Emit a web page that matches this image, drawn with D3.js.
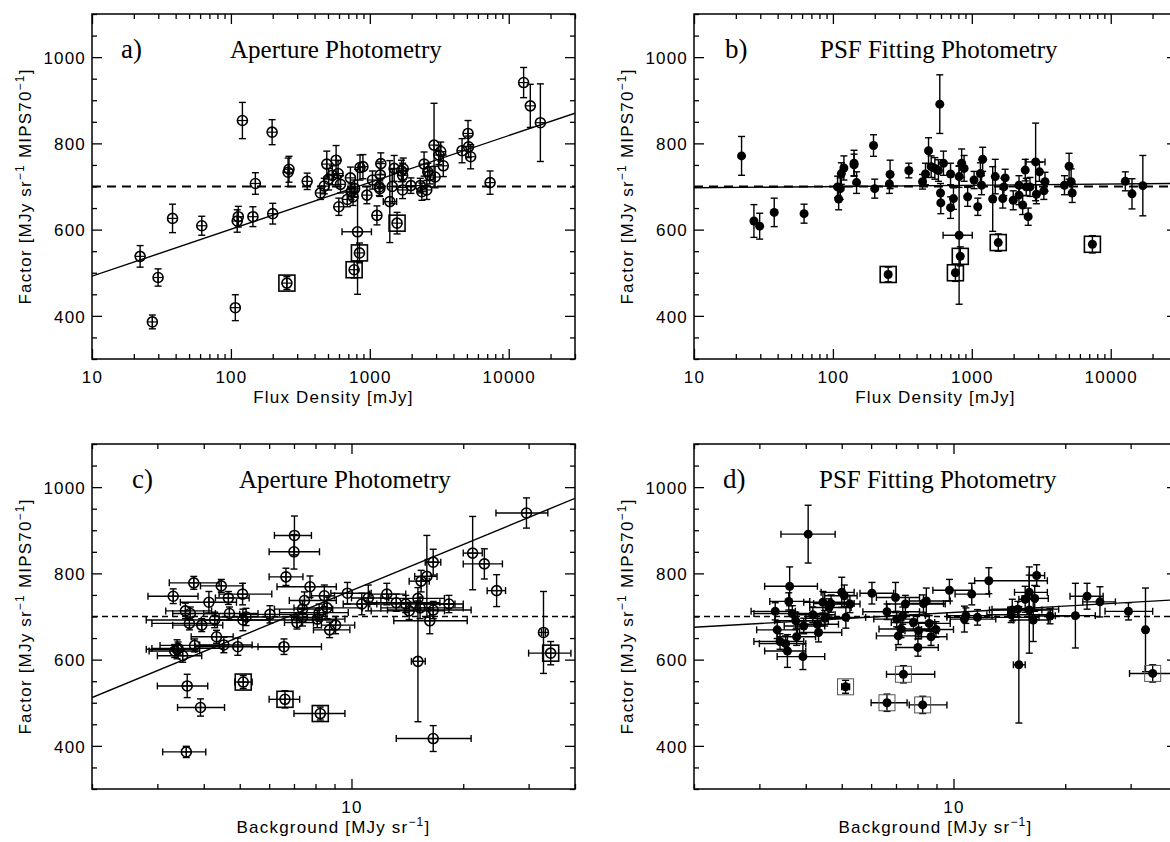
<!DOCTYPE html>
<html>
<head>
<meta charset="utf-8">
<script src="https://cdn.jsdelivr.net/npm/d3@7"></script>
<style>
  html, body { margin: 0; padding: 0; background: #fff; overflow: hidden; }
  svg { display: block; }
  .tick text { font-family: "Liberation Sans", Arial, sans-serif; font-size: 17px; letter-spacing: 1.2px; fill: #000; }
  .tick line { stroke: #000; stroke-width: 1.3; }
  .axis-title { font-family: "Liberation Sans", Arial, sans-serif; font-size: 17px; letter-spacing: 1.2px; fill: #000; }
  .panel-title { font-family: "Liberation Serif", "Times New Roman", serif; font-size: 25px; fill: #000; }
  .panel-letter { font-family: "Liberation Serif", "Times New Roman", serif; font-size: 27px; fill: #000; }
</style>
</head>
<body>
<svg id="chart" width="1170" height="842"></svg>
<script>
// ---- data ----
// panels a/b: [flux mJy, factor, error, (flux low, flux high)]
const pointsA = [
  [22.2, 538, 25], [27.2, 386, 16], [29.9, 489, 20], [38, 626, 33], [61.7, 609, 22],
  [107.6, 419, 30], [111, 620, 26], [113, 630, 24], [121, 853, 42], [144, 630, 23],
  [150, 707, 25], [198, 826, 29], [200, 637, 24], [253, 476, 15], [258, 733, 33],
  [262, 740, 30], [354, 712, 19], [441, 685, 15], [470, 701, 18], [490, 752, 30],
  [505, 717, 25], [537, 726, 22], [572, 761, 34], [591, 730, 30], [598, 653, 20],
  [615, 705, 20], [689, 670, 17], [725, 720, 25], [734, 688, 18], [757, 676, 20],
  [777, 695, 20], [771, 507, 19], [816, 595, 145, 631, 1027], [842, 546, 23], [850, 744, 29],
  [892, 746, 28], [953, 680, 20], [1045, 715, 21], [1125, 633, 22], [1170, 699, 20],
  [1180, 695, 18], [1190, 727, 30], [1200, 753, 25], [1393, 665, 95, 1250, 1560], [1450, 700, 40],
  [1497, 742, 30], [1571, 615, 25], [1691, 736, 25], [1722, 726, 28], [1722, 692, 20],
  [1740, 741, 25], [1977, 702, 18], [2308, 702, 17], [2370, 688, 20], [2458, 752, 28],
  [2570, 692, 22], [2614, 734, 20], [2700, 726, 20], [2900, 796, 97], [2950, 722, 25],
  [3140, 773, 22], [3240, 781, 22], [3380, 748, 25], [4613, 783, 28], [5093, 823, 30],
  [5140, 792, 25], [5320, 769, 28], [7340, 709, 27], [12800, 941, 35], [14300, 887, 50],
  [16900, 848, 90]
];
const boxA = [[253, 476], [771, 507], [842, 546], [1571, 615]];

const pointsB = [
  [22, 771, 45], [27, 620, 38], [29.7, 608, 30], [37.8, 640, 33], [62, 637, 22],
  [108, 699, 25], [110, 671, 25], [113, 695, 25], [115, 730, 25], [120, 743, 28],
  [142, 754, 30], [142, 750, 25], [148, 709, 25], [196, 795, 25], [200, 695, 22],
  [250, 496, 17], [255, 706, 22], [258, 728, 33], [352, 737, 17], [442, 711, 17],
  [464, 729, 25], [488, 783, 30], [510, 746, 25], [542, 742, 25], [575, 737, 25],
  [588, 891, 68], [595, 685, 22], [598, 662, 25], [625, 754, 28], [703, 729, 25],
  [703, 651, 25], [738, 672, 25], [762, 500, 20], [810, 587, 160, 621, 1007], [810, 723, 25],
  [826, 538, 22], [845, 754, 33], [880, 742, 30], [933, 676, 22], [1038, 715, 20],
  [1104, 653, 20], [1153, 730, 25], [1175, 703, 22], [1197, 763, 28], [1414, 671, 75],
  [1475, 723, 40], [1550, 570, 20], [1670, 672, 22], [1700, 699, 20], [1738, 720, 20],
  [1987, 668, 22], [2186, 680, 22], [2186, 703, 22], [2323, 657, 22], [2424, 738, 25],
  [2466, 699, 20], [2545, 630, 20], [2623, 699, 22], [2880, 757, 90, 2460, 3365], [2918, 682, 22],
  [3067, 734, 22], [3300, 690, 20], [3364, 711, 22], [4645, 703, 22], [5016, 747, 30],
  [5188, 711, 30], [5280, 685, 22], [7380, 566, 20], [12740, 712, 22], [14230, 683, 35],
  [17030, 702, 70]
];
const boxB = [[250, 496], [762, 500], [826, 538], [1550, 570], [7380, 566]];

// panels c/d: [background, background low, background high, factor, error]
const pointsC = [
  [3.31, 2.83, 3.86, 747, 17], [3.76, 3.23, 4.4, 778, 15], [4.46, 3.92, 5.1, 771, 15],
  [4.66, 4.3, 5.3, 743, 15], [5.09, 4.4, 6.1, 752, 25], [4.13, 3.46, 4.9, 733, 25],
  [3.57, 3.16, 4.2, 713, 18], [3.68, 3.3, 4.3, 707, 15], [4.28, 2.8, 6.0, 692, 18],
  [4.69, 4.0, 5.6, 707, 15], [3.95, 3.3, 4.5, 680, 15], [3.66, 2.9, 4.35, 684, 15],
  [5.1, 3.94, 9.1, 692, 25], [5.2, 4.4, 7.0, 699, 20], [6.03, 5.0, 8.5, 705, 20],
  [4.33, 3.7, 4.8, 653, 15], [4.53, 3.9, 5.4, 634, 18], [4.94, 3.8, 6.4, 630, 20],
  [3.78, 3.05, 4.4, 633, 15], [3.39, 2.8, 3.8, 624, 22], [3.34, 2.85, 3.9, 620, 15],
  [3.41, 2.9, 4.5, 626, 15], [3.51, 3.0, 3.95, 609, 15], [3.61, 3.0, 4.1, 539, 27],
  [3.92, 3.4, 4.55, 489, 20], [3.59, 3.1, 4.05, 386, 13], [5.11, 4.85, 5.4, 548, 15],
  [6.62, 6.0, 7.25, 508, 20], [8.24, 7.0, 9.6, 475, 15], [6.58, 5.6, 8.3, 630, 18],
  [6.66, 6.0, 7.4, 792, 20], [7.02, 6.2, 7.8, 888, 45], [7.0, 6.0, 8.2, 850, 40],
  [7.73, 6.3, 9.1, 769, 25], [7.47, 6.8, 9.1, 737, 20], [7.38, 6.2, 8.9, 717, 20],
  [7.13, 6.6, 7.9, 686, 15], [7.38, 6.9, 8.0, 698, 20], [8.09, 7.1, 9.6, 694, 20],
  [8.45, 7.8, 9.0, 748, 25], [8.59, 7.0, 10.7, 720, 25], [8.18, 6.4, 9.8, 709, 20],
  [8.73, 7.9, 9.9, 669, 18], [9.06, 8.3, 10.2, 680, 20], [9.75, 8.8, 11.3, 754, 25],
  [10.66, 9.5, 11.7, 729, 25], [11.1, 10.0, 12.6, 743, 30], [12.45, 11.2, 14.0, 752, 25],
  [14.3, 11.3, 17.8, 713, 20], [15.1, 12.0, 17.8, 742, 25], [15.3, 12.0, 20.0, 720, 25],
  [15.4, 14.3, 16.2, 782, 25], [15.96, 14.8, 17.0, 793, 95], [16.6, 15.8, 17.4, 826, 30],
  [16.25, 13.0, 20.5, 690, 30], [16.6, 12.5, 21.0, 715, 20], [15.1, 14.5, 15.8, 596, 140],
  [16.6, 13.2, 21.0, 417, 30], [21.2, 20.0, 22.5, 847, 85], [22.8, 20.0, 25.5, 822, 35],
  [24.6, 23.2, 26.0, 760, 37], [29.6, 24.5, 33.8, 940, 35], [32.9, 32.5, 33.3, 663, 95],
  [34.4, 30.0, 39.0, 615, 27], [13.2, 11.0, 17.3, 732, 20], [14.0, 11.2, 19.0, 729, 20],
  [18.3, 15.0, 20.0, 729, 20]
];
const boxC = [[5.11, 548], [6.62, 508], [8.24, 475], [34.4, 615]];

const pointsD = [
  [4.06, 3.43, 4.8, 891, 67], [3.62, 3.1, 4.3, 770, 45], [3.31, 2.85, 3.75, 712, 20],
  [3.6, 3.2, 4.1, 735, 20], [3.35, 2.95, 3.8, 669, 20], [3.41, 2.9, 3.95, 642, 18],
  [3.53, 3.0, 4.0, 637, 18], [3.57, 3.1, 4.0, 620, 38], [3.93, 3.35, 4.5, 607, 30],
  [3.68, 2.9, 4.6, 707, 18], [3.76, 3.3, 4.6, 690, 20], [3.78, 3.35, 4.25, 653, 20],
  [3.95, 3.5, 4.5, 678, 18], [4.18, 3.8, 4.8, 704, 18], [4.3, 3.8, 4.9, 682, 22],
  [4.33, 3.85, 5.0, 663, 22], [4.45, 3.95, 5.2, 733, 25], [4.62, 4.1, 5.3, 721, 20],
  [4.68, 4.2, 5.4, 730, 20], [4.5, 4.0, 5.2, 696, 18], [5.0, 4.4, 5.4, 756, 35],
  [5.08, 4.5, 5.5, 748, 25], [5.13, 4.5, 5.8, 698, 25], [5.26, 4.6, 5.6, 729, 20],
  [5.12, 5.0, 5.25, 537, 15], [6.03, 5.6, 6.9, 754, 25], [6.62, 5.7, 8.1, 711, 18],
  [6.98, 6.2, 8.1, 744, 35], [7.42, 6.6, 9.5, 729, 20], [7.03, 6.1, 8.0, 694, 18],
  [7.22, 6.3, 8.9, 671, 20], [7.1, 6.2, 8.2, 655, 20], [7.3, 6.6, 8.4, 702, 20],
  [6.62, 6.0, 7.5, 500, 20], [7.33, 6.6, 8.9, 566, 20], [8.26, 7.6, 9.6, 495, 20],
  [8.02, 7.0, 9.1, 628, 20], [7.8, 6.8, 8.9, 686, 18], [8.05, 7.4, 9.1, 667, 18],
  [8.3, 7.5, 9.4, 730, 20], [8.45, 7.6, 9.8, 736, 30], [8.6, 7.7, 9.8, 684, 18],
  [8.7, 7.9, 9.6, 653, 20], [8.97, 8.2, 10.0, 670, 18], [9.75, 8.8, 11.2, 761, 25],
  [11.2, 10.1, 12.5, 752, 25], [10.7, 9.8, 13.0, 694, 30], [10.8, 9.6, 12.7, 702, 18],
  [12.45, 11.4, 17.9, 783, 30], [14.4, 12.5, 17.3, 715, 25], [15.0, 14.5, 15.6, 588, 135],
  [15.6, 15.0, 16.7, 740, 30], [16.0, 14.6, 17.9, 756, 40], [16.75, 16.0, 17.6, 795, 25],
  [16.55, 15.3, 18.0, 742, 30], [16.0, 14.0, 18.5, 715, 100], [16.4, 14.5, 18.0, 692, 50],
  [14.3, 12.3, 18.0, 704, 18], [14.9, 12.7, 19.2, 717, 18], [21.3, 18.8, 24.1, 702, 75],
  [22.9, 20.6, 25.3, 747, 30], [24.8, 22.3, 27.3, 734, 35], [29.6, 25.6, 34.4, 712, 20],
  [32.9, 32.5, 33.3, 669, 97], [34.4, 29.8, 42, 568, 20], [11.6, 9.6, 17.0, 698, 18],
  [18.2, 16.0, 21.0, 701, 18]
];
const boxD = [[5.12, 537], [6.62, 500], [7.33, 566], [8.26, 495], [34.4, 568]];

// fitted lines (end points) and the reference level
const fitA = [[10, 492], [30000, 870]];
const fitB = [[10, 697], [30000, 707]];
const fitC = [[2, 512], [40, 974]];
const fitD = [[2, 675], [40, 739]];
const refLevel = 700;

const fluxDomain = [10, 30000];
const bgDomain = [2, 40];
const factorDomain = [300, 1100];
const factorMajor = [400, 600, 800, 1000];

// ---- layout ----
const PW = 483, PH = 345;
const svg = d3.select('#chart');

const panels = [
  { letter: 'a)', title: 'Aperture Photometry', left: 92, top: 14, letterX: 29, titleX: 138,
    pts: pointsA, boxes: boxA, fit: fitA, dom: fluxDomain, kind: 'flux', open: true, dash: '9,6', dashW: 2 },
  { letter: 'b)', title: 'PSF Fitting Photometry', left: 694, top: 14, letterX: 31, titleX: 126,
    pts: pointsB, boxes: boxB, fit: fitB, dom: fluxDomain, kind: 'flux', open: false, dash: '9,6', dashW: 2 },
  { letter: 'c)', title: 'Aperture Photometry', left: 92, top: 444, letterX: 40, titleX: 147,
    pts: pointsC, boxes: boxC, fit: fitC, dom: bgDomain, kind: 'bg', open: true, dash: '6,4', dashW: 1.3 },
  { letter: 'd)', title: 'PSF Fitting Photometry', left: 694, top: 444, letterX: 29, titleX: 125,
    pts: pointsD, boxes: boxD, fit: fitD, dom: bgDomain, kind: 'bg', open: false, dash: '6,4', dashW: 1.3, thinBox: true }
];

panels.forEach(drawPanel);

function drawPanel(p, i) {
  const g = svg.append('g').attr('transform', `translate(${p.left},${p.top})`);
  const x = d3.scaleLog().domain(p.dom).range([0, PW]);
  const y = d3.scaleLinear().domain(factorDomain).range([PH, 0]);

  const xt = x.ticks();
  const xMajor = xt.filter(v => Math.abs(Math.log10(v) - Math.round(Math.log10(v))) < 1e-9);
  const xMinor = xt.filter(v => !xMajor.includes(v));
  const yAll = d3.range(factorDomain[0], factorDomain[1] + 1, 50);
  const yMinor = yAll.filter(v => !factorMajor.includes(v));

  const clean = s => s.select('.domain').remove();

  // ticks on all four sides, pointing inward
  g.append('g').attr('transform', `translate(0,${PH})`)
    .call(d3.axisBottom(x).tickValues(xMajor).tickSize(-10).tickPadding(12).tickFormat(d3.format('d'))).call(clean);
  g.append('g').attr('transform', `translate(0,${PH})`)
    .call(d3.axisBottom(x).tickValues(xMinor).tickSize(-5).tickFormat('')).call(clean);
  g.append('g').call(d3.axisTop(x).tickValues(xMajor).tickSize(-10).tickFormat('')).call(clean);
  g.append('g').call(d3.axisTop(x).tickValues(xMinor).tickSize(-5).tickFormat('')).call(clean);
  g.append('g')
    .call(d3.axisLeft(y).tickValues(factorMajor).tickSize(-10).tickPadding(6).tickFormat(d3.format('d'))).call(clean);
  g.append('g').call(d3.axisLeft(y).tickValues(yMinor).tickSize(-5).tickFormat('')).call(clean);
  g.append('g').attr('transform', `translate(${PW},0)`)
    .call(d3.axisRight(y).tickValues(factorMajor).tickSize(-10).tickFormat('')).call(clean);
  g.append('g').attr('transform', `translate(${PW},0)`)
    .call(d3.axisRight(y).tickValues(yMinor).tickSize(-5).tickFormat('')).call(clean);
  g.selectAll('.tick text').each(function () {
    const t = d3.select(this);
    if (t.attr('y') !== null && +t.attr('y') > 0) t.attr('dy', '0.72em');
    else t.attr('dy', '0.36em');
  });

  g.append('rect').attr('width', PW).attr('height', PH)
    .attr('fill', 'none').attr('stroke', '#000').attr('stroke-width', 1.5);

  // axis titles
  const xt2 = g.append('text').attr('class', 'axis-title')
    .attr('x', PW / 2).attr('y', PH + 44).attr('text-anchor', 'middle');
  if (p.kind === 'flux') {
    xt2.text('Flux Density [mJy]');
  } else {
    xt2.append('tspan').text('Background [MJy sr');
    xt2.append('tspan').attr('dy', -7).attr('font-size', 12).text('−1');
    xt2.append('tspan').attr('dy', 7).text(']');
  }
  const yt = g.append('text').attr('class', 'axis-title')
    .attr('transform', `translate(-61,${PH / 2}) rotate(-90)`).attr('text-anchor', 'middle');
  yt.append('tspan').text('Factor [MJy sr');
  yt.append('tspan').attr('dy', -7).attr('font-size', 12).text('−1');
  yt.append('tspan').attr('dy', 7).text(' MIPS70');
  yt.append('tspan').attr('dy', -7).attr('font-size', 12).text('−1');
  yt.append('tspan').attr('dy', 7).text(']');

  g.append('text').attr('class', 'panel-letter').attr('x', p.letterX).attr('y', 44).text(p.letter);
  g.append('text').attr('class', 'panel-title').attr('x', p.titleX).attr('y', 44).text(p.title);

  // plot contents, clipped to the frame
  const cid = 'clip' + i;
  g.append('clipPath').attr('id', cid).append('rect').attr('width', PW).attr('height', PH);
  const m = g.append('g').attr('clip-path', `url(#${cid})`);

  m.append('line')
    .attr('x1', x(p.dom[0])).attr('x2', x(p.dom[1]))
    .attr('y1', y(refLevel)).attr('y2', y(refLevel))
    .attr('stroke', '#000').attr('stroke-width', p.dashW).attr('stroke-dasharray', p.dash);
  m.append('path').datum(p.fit)
    .attr('d', d3.line().x(d => x(d[0])).y(d => y(d[1])))
    .attr('fill', 'none').attr('stroke', '#000').attr('stroke-width', 1.4);

  const rec = p.kind === 'flux'
    ? p.pts.map(d => ({ x: d[0], y: d[1], e: d[2], lo: d[3], hi: d[4] }))
    : p.pts.map(d => ({ x: d[0], lo: d[1], hi: d[2], y: d[3], e: d[4] }));

  const cap = 3.5;
  const eb = m.append('g').attr('stroke', '#000').attr('stroke-width', 1.4);
  rec.forEach(d => {
    const cx = x(d.x), y0 = y(d.y - d.e), y1 = y(d.y + d.e);
    eb.append('line').attr('x1', cx).attr('x2', cx).attr('y1', y0).attr('y2', y1);
    eb.append('line').attr('x1', cx - cap).attr('x2', cx + cap).attr('y1', y0).attr('y2', y0);
    eb.append('line').attr('x1', cx - cap).attr('x2', cx + cap).attr('y1', y1).attr('y2', y1);
    if (d.lo !== undefined) {
      const cy = y(d.y), x0 = x(d.lo), x1 = x(d.hi);
      eb.append('line').attr('x1', x0).attr('x2', x1).attr('y1', cy).attr('y2', cy);
      eb.append('line').attr('x1', x0).attr('x2', x0).attr('y1', cy - cap).attr('y2', cy + cap);
      eb.append('line').attr('x1', x1).attr('x2', x1).attr('y1', cy - cap).attr('y2', cy + cap);
    }
  });

  const mk = m.append('g');
  rec.forEach(d => {
    const cx = x(d.x), cy = y(d.y);
    if (p.open) {
      mk.append('circle').attr('cx', cx).attr('cy', cy).attr('r', 5)
        .attr('fill', 'none').attr('stroke', '#000').attr('stroke-width', 1.6);
      mk.append('line').attr('x1', cx - 5).attr('x2', cx + 5).attr('y1', cy).attr('y2', cy)
        .attr('stroke', '#000').attr('stroke-width', 1.2);
      mk.append('line').attr('x1', cx).attr('x2', cx).attr('y1', cy - 5).attr('y2', cy + 5)
        .attr('stroke', '#000').attr('stroke-width', 1.2);
    } else {
      mk.append('circle').attr('cx', cx).attr('cy', cy).attr('r', 4.5).attr('fill', '#000');
    }
  });

  m.append('g').selectAll('rect').data(p.boxes).join('rect')
    .attr('x', d => x(d[0]) - 8).attr('y', d => y(d[1]) - 8)
    .attr('width', 16).attr('height', 16)
    .attr('fill', 'none')
    .attr('stroke', p.thinBox ? '#555' : '#000')
    .attr('stroke-width', p.thinBox ? 1 : 1.6);
}
</script>
</body>
</html>
